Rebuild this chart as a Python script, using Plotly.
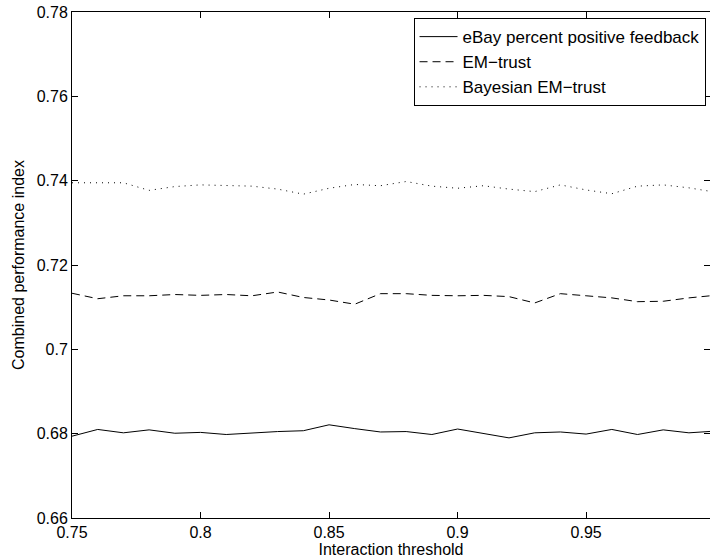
import plotly.graph_objects as go

# Interaction threshold values
threshold = [0.75, 0.76, 0.77, 0.78, 0.79, 0.80, 0.81, 0.82, 0.83, 0.84,
             0.85, 0.86, 0.87, 0.88, 0.89, 0.90, 0.91, 0.92, 0.93, 0.94,
             0.95, 0.96, 0.97, 0.98, 0.99, 1.00]

ebay = [0.6794, 0.6810, 0.6802, 0.6809, 0.6801, 0.6803, 0.6798, 0.6802, 0.6805, 0.6807,
        0.6821, 0.6812, 0.6804, 0.6805, 0.6798, 0.6811, 0.6800, 0.6790, 0.6802, 0.6804,
        0.6799, 0.6810, 0.6798, 0.6809, 0.6802, 0.6806]

em_trust = [0.7133, 0.7120, 0.7127, 0.7127, 0.7130, 0.7128, 0.7130, 0.7127, 0.7136, 0.7123,
            0.7117, 0.7107, 0.7132, 0.7132, 0.7128, 0.7127, 0.7128, 0.7125, 0.7110, 0.7132,
            0.7127, 0.7122, 0.7113, 0.7114, 0.7122, 0.7128]

bayes_em = [0.7395, 0.7395, 0.7395, 0.7377, 0.7386, 0.7390, 0.7388, 0.7387, 0.7380, 0.7368,
            0.7382, 0.7391, 0.7388, 0.7398, 0.7387, 0.7382, 0.7388, 0.7380, 0.7374, 0.7390,
            0.7378, 0.7369, 0.7387, 0.7390, 0.7383, 0.7373]

series_names = ["eBay percent positive feedback", "EM\u2212trust", "Bayesian EM\u2212trust"]

x_ticks = [0.75, 0.80, 0.85, 0.90, 0.95]
x_ticklabels = ["0.75", "0.8", "0.85", "0.9", "0.95"]
y_ticks = [0.66, 0.68, 0.70, 0.72, 0.74, 0.76, 0.78]
y_ticklabels = ["0.66", "0.68", "0.7", "0.72", "0.74", "0.76", "0.78"]

FONT = "Liberation Sans, Arial, Helvetica, sans-serif"

fig = go.Figure()
fig.add_trace(go.Scatter(x=threshold, y=ebay, mode="lines", name=series_names[0],
                         line=dict(color="black", width=1, dash="solid")))
fig.add_trace(go.Scatter(x=threshold, y=em_trust, mode="lines", name=series_names[1],
                         line=dict(color="black", width=1, dash="8px,5px")))
fig.add_trace(go.Scatter(x=threshold, y=bayes_em, mode="lines", name=series_names[2],
                         line=dict(color="black", width=1, dash="1px,5px")))

axis_common = dict(
    showline=True, linecolor="black", linewidth=1, mirror="ticks",
    ticks="inside", ticklen=6, tickwidth=1, tickcolor="black",
    showgrid=False, zeroline=False,
    tickfont=dict(family=FONT, size=16, color="black"),
)

fig.update_xaxes(
    range=[0.75, 0.9982], tickvals=x_ticks, ticktext=x_ticklabels,
    title=dict(text="Interaction threshold", font=dict(family=FONT, size=16, color="black"), standoff=2),
    **axis_common,
)
fig.update_yaxes(
    range=[0.66, 0.78], tickvals=y_ticks, ticktext=y_ticklabels,
    title=dict(text="Combined performance index", font=dict(family=FONT, size=16, color="black"), standoff=8),
    **axis_common,
)

fig.update_layout(
    width=710, height=559,
    margin=dict(l=72, r=0, t=12, b=41, autoexpand=False),
    plot_bgcolor="white", paper_bgcolor="white",
    font=dict(family=FONT, size=16, color="black"),
    showlegend=True,
    legend=dict(
        x=0.993, xanchor="right", y=0.988, yanchor="top",
        bgcolor="white", bordercolor="black", borderwidth=1,
        font=dict(family=FONT, size=17, color="black"),
        tracegroupgap=0, itemwidth=38,
    ),
)

fig.write_html("out.html")
